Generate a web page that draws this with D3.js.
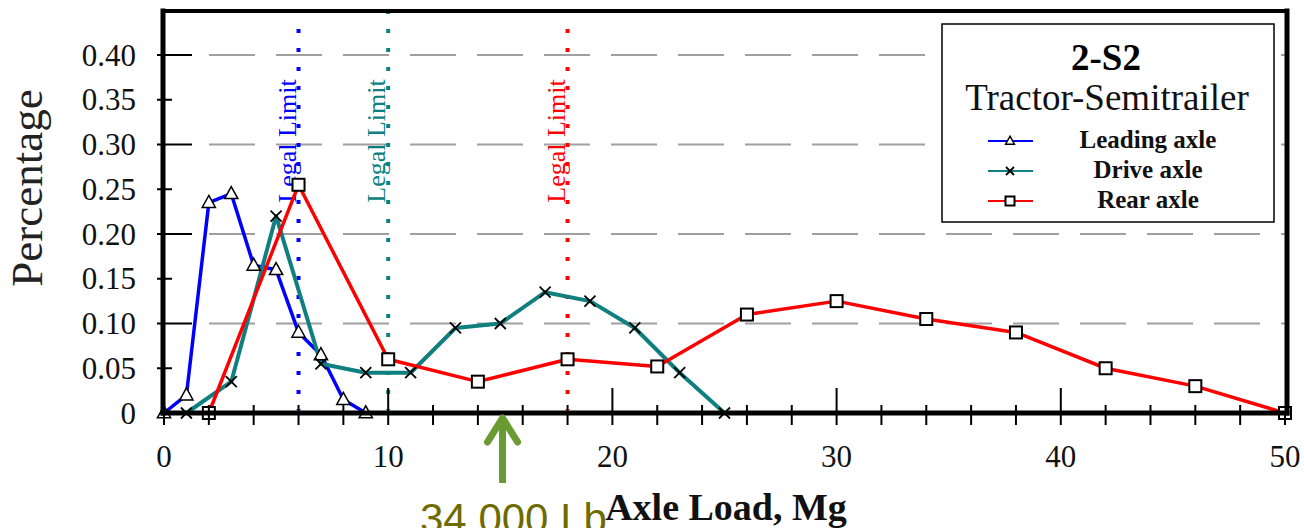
<!DOCTYPE html>
<html>
<head>
<meta charset="utf-8">
<script src="https://cdn.jsdelivr.net/npm/d3@7"></script>
<style>
  html, body { margin: 0; padding: 0; background: #fff; }
  svg { display: block; }
</style>
</head>
<body>
<svg id="chart" width="1304" height="528"></svg>
<script>
// axle load (Mg) vs percentage
const leadingX = [0, 1, 2, 3, 4, 5, 6, 7, 8, 9];
const leadingY = [0, 0.02, 0.235, 0.245, 0.165, 0.16, 0.09, 0.065, 0.015, 0];

const driveX = [1, 3, 5, 7, 9, 11, 13, 15, 17, 19, 21, 23, 25];
const driveY = [0, 0.035, 0.22, 0.055, 0.045, 0.045, 0.095, 0.1, 0.135, 0.125, 0.095, 0.045, 0];

const rearX = [2, 6, 10, 14, 18, 22, 26, 30, 34, 38, 42, 46, 50];
const rearY = [0, 0.255, 0.06, 0.035, 0.06, 0.052, 0.11, 0.125, 0.105, 0.09, 0.05, 0.03, 0];

const limitX = [6, 10, 18];
const limitColors = ["#0000ff", "#0a8080", "#ff0000"];

const yTicks = [0, 0.05, 0.10, 0.15, 0.20, 0.25, 0.30, 0.35, 0.40];
const yTickLabels = ["0", "0.05", "0.10", "0.15", "0.20", "0.25", "0.30", "0.35", "0.40"];
const xTicks = [0, 10, 20, 30, 40, 50];
const gridY = [0.1, 0.2, 0.3, 0.4];
const arrowAt = 15.1;

const serif = "'Liberation Serif', 'Times New Roman', serif";
const svg = d3.select("#chart");

const x = d3.scaleLinear().domain([0, 50]).range([164, 1285]);
const y = d3.scaleLinear().domain([0, 0.4]).range([413, 55]);

const plotL = 163, plotR = 1287, plotT = 11, plotB = 413;

// dashed gridlines
svg.append("g").selectAll("line").data(gridY).enter().append("line")
    .attr("x1", 209).attr("x2", plotR)
    .attr("y1", d => y(d)).attr("y2", d => y(d))
    .attr("stroke", "#a0a0a0").attr("stroke-width", 2)
    .attr("stroke-dasharray", "46 21");

// legal limit dotted lines
const limits = svg.append("g");
limitX.forEach((v, i) => {
    limits.append("line")
        .attr("x1", x(v)).attr("x2", x(v))
        .attr("y1", i === 1 ? 10 : 29).attr("y2", 410)
        .attr("stroke", limitColors[i]).attr("stroke-width", 4)
        .attr("stroke-dasharray", "4 15");
    limits.append("text")
        .attr("transform", `translate(${x(v) - 3},141) rotate(-90)`)
        .attr("text-anchor", "middle")
        .attr("font-family", serif).attr("font-size", 26)
        .attr("fill", limitColors[i])
        .text("Legal Limit");
});

// series
const series = [
    { name: "Leading axle", xs: leadingX, ys: leadingY, color: "#0000ff", marker: "tri", width: 3.5 },
    { name: "Drive axle", xs: driveX, ys: driveY, color: "#0f7f7f", marker: "x", width: 4 },
    { name: "Rear axle", xs: rearX, ys: rearY, color: "#ff0000", marker: "sq", width: 3.5 }
];

const line = d3.line().x(d => x(d[0])).y(d => y(d[1]));

function drawMarker(g, type, cx, cy, s) {
    if (type === "tri") {
        g.append("path")
            .attr("d", `M${cx},${cy - s * 0.6} L${cx + s * 0.55},${cy + s * 0.4} L${cx - s * 0.55},${cy + s * 0.4} Z`)
            .attr("fill", "#fff").attr("stroke", "#000").attr("stroke-width", 1.5);
    } else if (type === "sq") {
        g.append("rect")
            .attr("x", cx - s / 2).attr("y", cy - s / 2)
            .attr("width", s).attr("height", s)
            .attr("fill", "#fff").attr("stroke", "#000").attr("stroke-width", 2);
    } else {
        const h = s / 2;
        g.append("path")
            .attr("d", `M${cx - h},${cy - h} L${cx + h},${cy + h} M${cx - h},${cy + h} L${cx + h},${cy - h}`)
            .attr("stroke", "#000").attr("stroke-width", 1.8);
    }
}

series.forEach(s => {
    const pts = s.xs.map((v, i) => [v, s.ys[i]]);
    svg.append("path").datum(pts)
        .attr("d", line)
        .attr("fill", "none")
        .attr("stroke", s.color).attr("stroke-width", s.width)
        .attr("stroke-linejoin", "round");
});
series.forEach(s => {
    const g = svg.append("g");
    s.xs.forEach((v, i) => {
        const size = s.marker === "sq" ? 12 : s.marker === "tri" ? 12 : 11;
        drawMarker(g, s.marker, x(v), y(s.ys[i]), size);
    });
});

// axes frame
const frame = svg.append("g").attr("stroke", "#000").attr("stroke-linecap", "square");
frame.append("line").attr("x1", plotL).attr("x2", plotR).attr("y1", plotT).attr("y2", plotT).attr("stroke-width", 4);
frame.append("line").attr("x1", plotR).attr("x2", plotR).attr("y1", plotT).attr("y2", plotB).attr("stroke-width", 5);
frame.append("line").attr("x1", plotL).attr("x2", plotL).attr("y1", plotT).attr("y2", plotB).attr("stroke-width", 5);
frame.append("line").attr("x1", plotL).attr("x2", plotR).attr("y1", plotB).attr("y2", plotB).attr("stroke-width", 5);

// y ticks
const yt = svg.append("g");
yTicks.forEach((v, i) => {
    const major = Math.round(v * 100) % 10 === 0;
    if (v > 0) {
        yt.append("line")
            .attr("x1", 157).attr("x2", major ? 192 : 172)
            .attr("y1", y(v)).attr("y2", y(v))
            .attr("stroke", "#000").attr("stroke-width", 2);
    }
    yt.append("text")
        .attr("x", 136).attr("y", y(v) + 10.5)
        .attr("text-anchor", "end")
        .attr("font-family", serif).attr("font-size", 31)
        .attr("fill", "#111")
        .text(yTickLabels[i]);
});

// x ticks: minor every 2, major every 10
const xt = svg.append("g");
d3.range(2, 50, 2).forEach(v => {
    const major = v % 10 === 0;
    xt.append("line")
        .attr("x1", x(v)).attr("x2", x(v))
        .attr("y1", major ? 388 : 405).attr("y2", 425)
        .attr("stroke", "#000").attr("stroke-width", 2);
});
[0, 50].forEach(v => {
    xt.append("line")
        .attr("x1", x(v)).attr("x2", x(v))
        .attr("y1", 413).attr("y2", 425)
        .attr("stroke", "#000").attr("stroke-width", 2);
});
xTicks.forEach(v => {
    xt.append("text")
        .attr("x", x(v)).attr("y", 467)
        .attr("text-anchor", "middle")
        .attr("font-family", serif).attr("font-size", 31)
        .attr("fill", "#111")
        .text(v);
});

// axis titles
svg.append("text")
    .attr("transform", "translate(42,188) rotate(-90)")
    .attr("text-anchor", "middle")
    .attr("font-family", serif).attr("font-size", 45)
    .attr("fill", "#222")
    .text("Percentage");

svg.append("text")
    .attr("x", 726).attr("y", 520)
    .attr("text-anchor", "middle")
    .attr("font-family", serif).attr("font-size", 38).attr("font-weight", "bold")
    .attr("fill", "#111")
    .text("Axle Load, Mg");

// legend
const lg = svg.append("g");
lg.append("rect")
    .attr("x", 942).attr("y", 24).attr("width", 332).attr("height", 198)
    .attr("fill", "#fff").attr("stroke", "#000").attr("stroke-width", 1.5);
lg.append("text")
    .attr("x", 1106).attr("y", 70).attr("text-anchor", "middle")
    .attr("font-family", serif).attr("font-size", 37).attr("font-weight", "bold")
    .text("2-S2");
lg.append("text")
    .attr("x", 1107).attr("y", 110).attr("text-anchor", "middle")
    .attr("font-family", serif).attr("font-size", 37)
    .attr("fill", "#111")
    .text("Tractor-Semitrailer");
series.forEach((s, i) => {
    const ly = 141 + i * 30;
    lg.append("line")
        .attr("x1", 988).attr("x2", 1033).attr("y1", ly).attr("y2", ly)
        .attr("stroke", s.color).attr("stroke-width", 2);
    drawMarker(lg, s.marker, 1010, ly, s.marker === "sq" ? 9 : 8);
    lg.append("text")
        .attr("x", 1148).attr("y", ly + 7).attr("text-anchor", "middle")
        .attr("font-family", serif).attr("font-size", 25).attr("font-weight", "bold")
        .attr("fill", "#111")
        .text(s.name);
});

// 34,000 lb annotation
const ax = x(arrowAt);
const ann = svg.append("g")
    .attr("stroke", "#6a9a32").attr("stroke-width", 7)
    .attr("stroke-linecap", "round").attr("fill", "none");
ann.append("line").attr("x1", ax).attr("x2", ax).attr("y1", 419).attr("y2", 483).attr("stroke-linecap", "butt");
ann.append("path").attr("d", `M${ax - 15},${442} L${ax},${418} L${ax + 15},${442}`).attr("stroke-linejoin", "round");

svg.append("text")
    .attr("x", 420).attr("y", 533)
    .attr("font-family", "'Liberation Sans', Arial, sans-serif").attr("font-size", 42)
    .attr("fill", "#6e6b00")
    .text("34,000 Lb");
</script>
</body>
</html>
